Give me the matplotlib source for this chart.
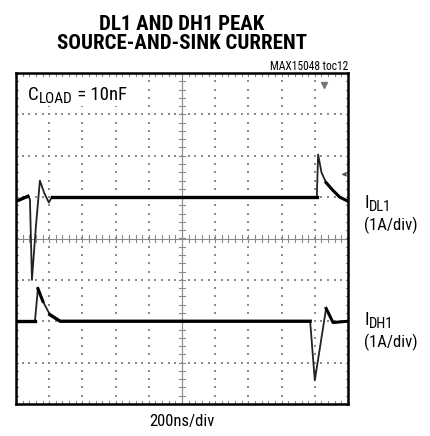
import numpy as np
import matplotlib
matplotlib.use("Agg")
import matplotlib.pyplot as plt

# ---- data (in divisions: x 0..10, y -4..4) ----
dl1_t = [0.0, 0.36, 0.42, 0.48, 0.60, 0.72, 0.85, 0.99, 1.08, 9.06, 9.10, 9.20, 9.34, 9.55, 9.75, 10.0]
dl1_v = [0.90, 1.02, 0.95, -1.00, 0.30, 1.40, 1.10, 0.87, 1.00, 1.00, 2.03, 1.60, 1.35, 1.16, 1.00, 0.90]
dh1_t = [0.0, 0.57, 0.66, 0.81, 1.02, 1.33, 8.86, 9.00, 9.34, 9.55, 10.0]
dh1_v = [-2.00, -2.00, -1.21, -1.52, -1.84, -2.00, -2.00, -3.43, -1.69, -2.03, -2.00]

title = "DL1 AND DH1 PEAK\nSOURCE-AND-SINK CURRENT"
cond = ["Roboto Condensed", "DejaVu Sans"]

W, H = 430, 436
fig = plt.figure(figsize=(W/100, H/100), dpi=100)
ax = fig.add_axes([16/W, 1-404/H, 332/W, 331/H])
ax.set_xlim(0, 10)
ax.set_ylim(-4, 4)
ax.set_xticks([]); ax.set_yticks([])
for s in ax.spines.values():
    s.set_linewidth(1.8)
    s.set_color("black")

gc = "#8a8a8a"
xs = np.arange(0, 10.01, 0.2)
ys = np.arange(-4, 4.01, 0.2)
for gx in range(1, 10):
    if gx == 5:
        continue
    ax.plot(np.full_like(ys, gx), ys, ls="none", marker="s", ms=1.5, color=gc, mew=0)
for gy in range(-3, 4):
    if gy == 0:
        continue
    ax.plot(xs, np.full_like(xs, gy), ls="none", marker="s", ms=1.5, color=gc, mew=0)
ax.plot([0, 10], [0, 0], color=gc, lw=0.8)
ax.plot([5, 5], [-4, 4], color=gc, lw=0.8)
for x in xs:
    ax.plot([x, x], [-0.08, 0.08], color=gc, lw=0.8)
    ax.plot([x, x], [-4, -3.92], color=gc, lw=0.8)
    ax.plot([x, x], [4, 3.92], color=gc, lw=0.8)
for y in ys:
    ax.plot([4.92, 5.08], [y, y], color=gc, lw=0.8)
    ax.plot([0, 0.06], [y, y], color=gc, lw=0.8)
    ax.plot([10, 9.94], [y, y], color=gc, lw=0.8)

# white patch behind the load label
ax.fill_between([0.25, 3.2], 3.2, 3.85, color="white", zorder=2.5, lw=0)

# traces: thin for fast edges, thick (noisy look) for baseline segments
ax.plot(dl1_t, dl1_v, color="#222222", lw=1.3, solid_joinstyle="round", zorder=3)
ax.plot(dh1_t, dh1_v, color="#222222", lw=1.3, solid_joinstyle="round", zorder=3)
ax.plot(dl1_t[8:10], dl1_v[8:10], color="black", lw=2.4, zorder=3)
ax.plot(dl1_t[0:2], dl1_v[0:2], color="black", lw=2.4, zorder=3)
ax.plot(dl1_t[12:], dl1_v[12:], color="black", lw=2.2, zorder=3)
ax.plot(dh1_t[4:7], dh1_v[4:7], color="black", lw=2.4, zorder=3)
ax.plot(dh1_t[0:2], dh1_v[0:2], color="black", lw=2.4, zorder=3)
ax.plot(dh1_t[2:4], dh1_v[2:4], color="black", lw=2.2, zorder=3)
ax.plot(dh1_t[8:], dh1_v[8:], color="black", lw=2.2, zorder=3)

# markers: trigger and ground arrow
ax.plot([9.27], [3.72], marker="v", ms=5, color="#777777")
ax.annotate("", xy=(9.72, 1.55), xytext=(9.95, 1.55),
            arrowprops=dict(arrowstyle="-|>", color="#555555", lw=0.8, mutation_scale=6))

renderer = fig.canvas.get_renderer()


def sub_label(x_px, y_px, main, sub, rest, size, subsize, drop=3):
    # y_px: baseline position from top in pixels
    t1 = fig.text(x_px/W, 1-y_px/H, main, fontsize=size, family=cond,
                  ha="left", va="baseline")
    w1 = t1.get_window_extent(renderer).width
    x2 = x_px + w1 + 0.5
    t2 = fig.text(x2/W, 1-(y_px+drop)/H, sub, fontsize=subsize, family=cond,
                  ha="left", va="baseline")
    w2 = t2.get_window_extent(renderer).width
    if rest:
        fig.text((x2 + w2)/W, 1-y_px/H, rest, fontsize=size, family=cond,
                 ha="left", va="baseline")


sub_label(28, 100, "C", "LOAD", " = 10nF", 13.5, 11)
sub_label(364, 208, "I", "DL1", "", 13, 10.5)
sub_label(364, 325, "I", "DH1", "", 13, 10.5)

fig.text(182/W, 1-34/H, title, ha="center", va="center", fontsize=15,
         fontweight="bold", family=cond, linespacing=1.0)
fig.text(348/W, 1-67/H, "MAX15048 toc12", ha="right", va="center", fontsize=8.3,
         family=cond)
fig.text(364/W, 1-225/H, "(1A/div)", ha="left", va="center", fontsize=12, family=cond)
fig.text(364/W, 1-342/H, "(1A/div)", ha="left", va="center", fontsize=12, family=cond)
fig.text(182/W, 1-421/H, "200ns/div", ha="center", va="center", fontsize=12, family=cond)

fig.savefig("out.png", dpi=100)
